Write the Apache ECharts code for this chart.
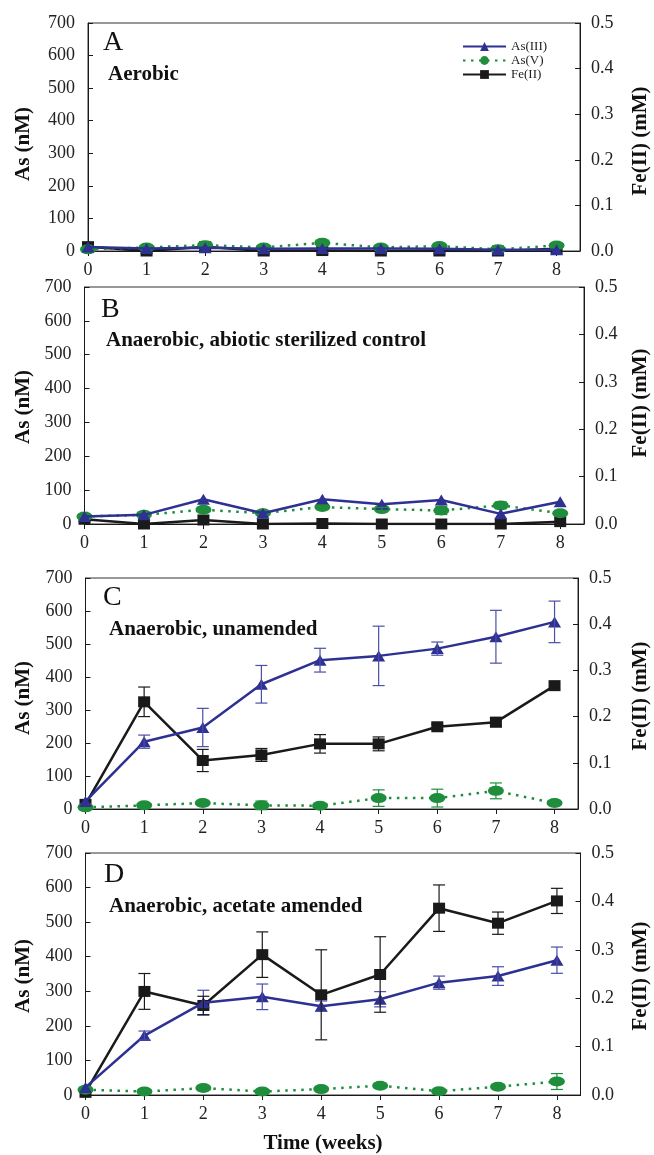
<!DOCTYPE html>
<html><head><meta charset="utf-8">
<script src="https://cdn.jsdelivr.net/npm/echarts@6/dist/echarts.min.js"></script>
<style>html,body{margin:0;padding:0;background:#fff}#c{width:654px;height:1155px}</style>
</head><body><div id="c"></div>
<script>
// ---------- data ----------
const weeks = [0, 1, 2, 3, 4, 5, 6, 7, 8];
const xTickValues = [0, 1, 2, 3, 4, 5, 6, 7, 8];
const seriesNames = ['As(III)', 'As(V)', 'Fe(II)'];
const panelLetters = ['A', 'B', 'C', 'D'];
const panelTitles = ['Aerobic', 'Anaerobic, abiotic sterilized control', 'Anaerobic, unamended', 'Anaerobic, acetate amended'];

// Panel A – Aerobic
const as3A = [12, 8, 10, 7, 8, 8, 7, 4, 4];
const as5A = [5, 11, 18, 11, 25, 11, 15, 5, 17];
const feA  = [0.0095, 0, 0.0095, 0, 0.001, 0, 0, 0, 0.005];

// Panel B – abiotic sterilized control
const as3B = [22, 27, 73, 32, 73, 58, 71, 30, 66];
const as5B = [22, 27, 42, 32, 50, 44, 40, 55, 32];
const as5BErr = [0, 0, 0, 0, 6, 5, 12, 10, 0];
const feB  = [0.01, 0, 0.0085, 0, 0.001, 0, 0, 0, 0.005];

// Panel C – unamended
const as3C = [23, 204, 247, 378, 451, 464, 486, 522, 567];
const as3CErr = [0, 20, 58, 57, 36, 90, 20, 80, 63];
const as5C = [5, 11, 18, 11, 10, 33, 33, 55, 18];
const as5CErr = [0, 0, 0, 13, 0, 25, 27, 24, 0];
const feC  = [0.01, 0.232, 0.105, 0.117, 0.141, 0.141, 0.178, 0.188, 0.267];
const feCErr = [0, 0.032, 0.024, 0.014, 0.02, 0.015, 0.006, 0.01, 0];

// Panel D – acetate amended
const as3D = [22, 172, 267, 284, 257, 277, 325, 344, 390];
const as3DErr = [0, 13, 36, 37, 15, 22, 19, 27, 38];
const as5D = [15, 10, 20, 10, 17, 27, 11, 24, 39];
const as5DErr = [0, 0, 0, 0, 0, 0, 0, 0, 23];
const feD  = [0.0055, 0.214, 0.185, 0.290, 0.207, 0.249, 0.386, 0.355, 0.401];
const feDErr = [0, 0.037, 0.019, 0.047, 0.093, 0.078, 0.048, 0.023, 0.026];

// ---------- styling / layout ----------
const FONT = '"Liberation Serif", "Times New Roman", serif';
const BLUE = '#2e3192', GREEN = '#1f8e3c', BLACK = '#1a1a1a';
const BLUE_ERR = '#4a4fa8';

const panels = [
  {as3: as3A, as5: as5A, fe: feA, as3Err: null, as5Err: null, feErr: null},
  {as3: as3B, as5: as5B, fe: feB, as3Err: null, as5Err: as5BErr, feErr: null},
  {as3: as3C, as5: as5C, fe: feC, as3Err: as3CErr, as5Err: as5CErr, feErr: feCErr},
  {as3: as3D, as5: as5D, fe: feD, as3Err: as3DErr, as5Err: as5DErr, feErr: feDErr}
];

const gridBoxes = [
  {left: 88,   top: 23,  width: 492,   height: 228},
  {left: 84.5, top: 287, width: 499.5, height: 237},
  {left: 85.5, top: 578, width: 492.5, height: 231},
  {left: 85.5, top: 853, width: 495,   height: 242}
];
const letterPos = [[103, 43], [101, 310], [103, 598], [104, 875]];
const titlePos  = [[108, 75], [106, 341], [109, 630], [109, 907]];
const leftNameY = [144, 407, 698, 976];
const rightNameY = [141, 403, 696, 976];

const pairs = (vals) => weeks.map((w, i) => [w, vals[i]]);
const errTriples = (vals, errs) => weeks.map((w, i) => [w, vals[i], errs[i]]).filter(d => d[2] > 0);

function errRender(color) {
  return function (params, api) {
    const x = api.value(0), y = api.value(1), e = api.value(2);
    const top = api.coord([x, y + e]);
    const bot = api.coord([x, y - e]);
    const hw = 6;
    const st = {stroke: color, lineWidth: 1.2, fill: null};
    return {
      type: 'group',
      children: [
        {type: 'line', shape: {x1: top[0], y1: top[1], x2: bot[0], y2: bot[1]}, style: st},
        {type: 'line', shape: {x1: top[0] - hw, y1: top[1], x2: top[0] + hw, y2: top[1]}, style: st},
        {type: 'line', shape: {x1: bot[0] - hw, y1: bot[1], x2: bot[0] + hw, y2: bot[1]}, style: st}
      ]
    };
  };
}

const grid = [], xAxis = [], yAxis = [], series = [], graphic = [];
const axisLine = {show: true, lineStyle: {color: BLACK, width: 1}};
const labelStyle = {fontFamily: FONT, fontSize: 18, color: '#222'};

panels.forEach((p, k) => {
  const g = gridBoxes[k];
  grid.push({left: g.left, top: g.top, width: g.width, height: g.height,
             show: true, borderColor: '#333', borderWidth: 1, backgroundColor: 'transparent'});
  xAxis.push({
    type: 'value', gridIndex: k, min: 0, max: 8.4,
    axisLine: axisLine,
    axisTick: {show: true, inside: false, length: 5, customValues: xTickValues, lineStyle: {color: BLACK}},
    axisLabel: Object.assign({margin: 10, customValues: xTickValues}, labelStyle),
    splitLine: {show: false}
  });
  yAxis.push({
    type: 'value', gridIndex: k, position: 'left', min: 0, max: 700, interval: 100,
    axisLine: axisLine,
    axisTick: {show: true, inside: true, length: 5, lineStyle: {color: BLACK}},
    axisLabel: Object.assign({margin: 13}, labelStyle),
    splitLine: {show: false}
  });
  yAxis.push({
    type: 'value', gridIndex: k, position: 'right', min: 0, max: 0.5, interval: 0.1,
    axisLine: axisLine,
    axisTick: {show: true, inside: true, length: 5, lineStyle: {color: BLACK}},
    axisLabel: Object.assign({margin: 11, formatter: v => v.toFixed(1)}, labelStyle),
    splitLine: {show: false}
  });
  const yl = 2 * k, yr = 2 * k + 1;
  series.push({
    name: 'Fe(II)', type: 'line', xAxisIndex: k, yAxisIndex: yr, data: pairs(p.fe),
    symbol: 'rect', symbolSize: [12, 11], z: 3,
    lineStyle: {color: BLACK, width: 2.5}, itemStyle: {color: BLACK}, animation: false
  });
  series.push({
    name: 'As(V)', type: 'line', xAxisIndex: k, yAxisIndex: yl, data: pairs(p.as5),
    symbol: 'circle', symbolSize: [16, 10], z: 4,
    lineStyle: {color: GREEN, width: 2.5, type: [2.5, 5.5]}, itemStyle: {color: GREEN}, animation: false
  });
  series.push({
    name: 'As(III)', type: 'line', xAxisIndex: k, yAxisIndex: yl, data: pairs(p.as3),
    symbol: 'triangle', symbolSize: [13, 11], z: 5,
    lineStyle: {color: BLUE, width: 2.5}, itemStyle: {color: BLUE}, animation: false
  });
  if (p.as3Err) series.push({type: 'custom', name: 'e1_' + k, xAxisIndex: k, yAxisIndex: yl,
    data: errTriples(p.as3, p.as3Err), renderItem: errRender(BLUE_ERR), encode: {x: 0, y: 1}, z: 6, animation: false, silent: true});
  if (p.as5Err) series.push({type: 'custom', name: 'e2_' + k, xAxisIndex: k, yAxisIndex: yl,
    data: errTriples(p.as5, p.as5Err), renderItem: errRender(GREEN), encode: {x: 0, y: 1}, z: 6, animation: false, silent: true});
  if (p.feErr) series.push({type: 'custom', name: 'e3_' + k, xAxisIndex: k, yAxisIndex: yr,
    data: errTriples(p.fe, p.feErr), renderItem: errRender(BLACK), encode: {x: 0, y: 1}, z: 6, animation: false, silent: true});

  graphic.push({type: 'text', x: letterPos[k][0], y: letterPos[k][1], z: 10,
    style: {text: panelLetters[k], font: '28px ' + FONT, fill: '#111', textAlign: 'left', textVerticalAlign: 'middle', align: 'left', verticalAlign: 'middle'}});
  graphic.push({type: 'text', x: titlePos[k][0], y: titlePos[k][1], z: 10,
    style: {text: panelTitles[k], font: 'bold 21px ' + FONT, fill: '#111', textAlign: 'left', textVerticalAlign: 'middle', align: 'left', verticalAlign: 'middle'}});
  graphic.push({type: 'text', x: 24, y: leftNameY[k], rotation: Math.PI / 2, z: 10,
    style: {text: 'As (nM)', font: 'bold 21px ' + FONT, fill: '#111', textAlign: 'center', textVerticalAlign: 'middle', align: 'center', verticalAlign: 'middle'}});
  graphic.push({type: 'text', x: 641, y: rightNameY[k], rotation: Math.PI / 2, z: 10,
    style: {text: 'Fe(II) (mM)', font: 'bold 21px ' + FONT, fill: '#111', textAlign: 'center', textVerticalAlign: 'middle', align: 'center', verticalAlign: 'middle'}});
});

graphic.push({type: 'text', x: 323, y: 1144, z: 10,
  style: {text: 'Time (weeks)', font: 'bold 21px ' + FONT, fill: '#111', textAlign: 'center', textVerticalAlign: 'middle', align: 'center', verticalAlign: 'middle'}});

const chart = echarts.init(document.getElementById('c'), null, {renderer: 'canvas'});
chart.setOption({
  animation: false,
  backgroundColor: '#fff',
  grid, xAxis, yAxis, series, graphic,
  legend: {
    data: seriesNames, orient: 'vertical', left: 457, top: 35,
    itemWidth: 43, itemHeight: 11, itemGap: 1, selectedMode: false,
    textStyle: {fontFamily: FONT, fontSize: 13, color: '#222', lineHeight: 12}
  }
});
</script></body></html>
